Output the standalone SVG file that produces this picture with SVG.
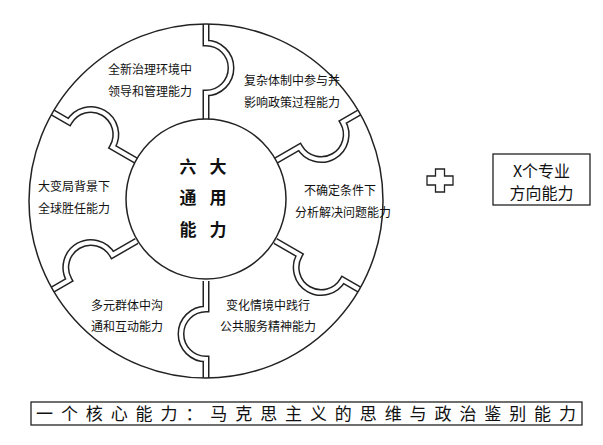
<svg xmlns="http://www.w3.org/2000/svg" width="603" height="445" viewBox="0 0 603 445">
<style>
text{font-family:"Noto Sans CJK SC","Liberation Sans",sans-serif;fill:#111}
.t{font-size:12px;text-anchor:middle}
.c{font-size:17px;font-weight:bold;text-anchor:middle}
.db{fill:none;stroke:#222;stroke-width:7}
.dw{fill:none;stroke:#fff;stroke-width:4}
</style>
<defs>
<path id="div" d="M80,0 L108,0 A25,25 0 0 0 158,0 L177,0"/>
</defs>
<rect width="603" height="445" fill="#fff"/>
<g id="connectors">
<g transform="translate(206,201)">
<use href="#div" class="db" transform="rotate(-90)"/><use href="#div" class="dw" transform="rotate(-90)"/>
<use href="#div" class="db" transform="rotate(-30)"/><use href="#div" class="dw" transform="rotate(-30)"/>
<use href="#div" class="db" transform="rotate(30)"/><use href="#div" class="dw" transform="rotate(30)"/>
<use href="#div" class="db" transform="rotate(90)"/><use href="#div" class="dw" transform="rotate(90)"/>
<use href="#div" class="db" transform="rotate(150)"/><use href="#div" class="dw" transform="rotate(150)"/>
<use href="#div" class="db" transform="rotate(210)"/><use href="#div" class="dw" transform="rotate(210)"/>
</g>
</g>
<g id="outer"><circle cx="206" cy="201" r="177" fill="none" stroke="#222" stroke-width="1.5"/></g>
<g id="center">
<circle cx="206" cy="199" r="80" fill="#fff" stroke="#222" stroke-width="1.5"/>
<text class="c" x="188" y="173">六</text><text class="c" x="218" y="173">大</text>
<text class="c" x="188" y="204">通</text><text class="c" x="218" y="204">用</text>
<text class="c" x="188" y="236">能</text><text class="c" x="218" y="236">力</text>
</g>
<g id="n1"><text class="t" x="150" y="74">全新治理环境中</text><text class="t" x="150" y="96">领导和管理能力</text></g>
<g id="n2"><text class="t" x="292" y="85">复杂体制中参与并</text><text class="t" x="292" y="107">影响政策过程能力</text></g>
<g id="n3"><text class="t" x="340" y="195">不确定条件下</text><text class="t" x="343" y="217">分析解决问题能力</text></g>
<g id="n4"><text class="t" x="268" y="310">变化情境中践行</text><text class="t" x="268" y="331">公共服务精神能力</text></g>
<g id="n5"><text class="t" x="127" y="310">多元群体中沟</text><text class="t" x="127" y="331">通和互动能力</text></g>
<g id="n6"><text class="t" x="74" y="191">大变局背景下</text><text class="t" x="74" y="213">全球胜任能力</text></g>
<g id="plus"><polygon points="435.5,169 444.5,169 444.5,176 453,176 453,185 444.5,185 444.5,192 435.5,192 435.5,185 427,185 427,176 435.5,176" fill="#fff" stroke="#222" stroke-width="1.3"/></g>
<g id="xbox"><rect x="493" y="154" width="97" height="51" fill="#fff" stroke="#222" stroke-width="1.3"/>
<text x="541.5" y="177" font-size="16" text-anchor="middle">X个专业</text><text x="541.5" y="199" font-size="16" text-anchor="middle">方向能力</text></g>
<g id="core"><rect x="31" y="402" width="551" height="23" fill="#fff" stroke="#222" stroke-width="1.3"/>
<text x="36" y="420" font-size="17" textLength="540" lengthAdjust="spacing">一个核心能力：马克思主义的思维与政治鉴别能力</text></g>
</svg>
